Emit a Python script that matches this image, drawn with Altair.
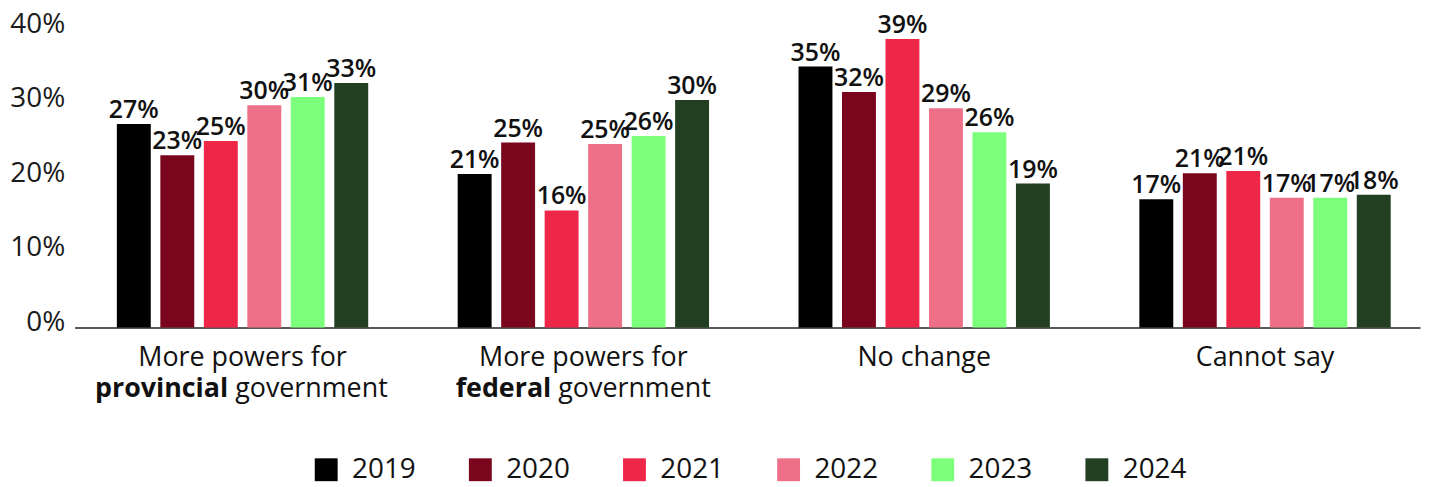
import altair as alt
import pandas as pd

categories = ["More powers for provincial government",
              "More powers for federal government",
              "No change",
              "Cannot say"]
years = ["2019", "2020", "2021", "2022", "2023", "2024"]
# bar heights (percent)
values = {
    "More powers for provincial government": [27.3, 23.1, 25.0, 29.8, 30.9, 32.8],
    "More powers for federal government": [20.6, 24.8, 15.7, 24.6, 25.7, 30.5],
    "No change": [35.0, 31.6, 38.7, 29.4, 26.2, 19.3],
    "Cannot say": [17.2, 20.7, 21.0, 17.4, 17.4, 17.8],
}
# printed labels
labels = {
    "More powers for provincial government": [27, 23, 25, 30, 31, 33],
    "More powers for federal government": [21, 25, 16, 25, 26, 30],
    "No change": [35, 32, 39, 29, 26, 19],
    "Cannot say": [17, 21, 21, 17, 17, 18],
}
line1 = ["More powers for", "More powers for", "No change", "Cannot say"]
line2_bold = ["provincial", "federal", "", ""]
line2_rest = ["government", "government", "", ""]
colors = ["#000000", "#7A061D", "#EE2648", "#ED7088", "#7CFF7A", "#223F21"]
y_ticks = [0, 10, 20, 30, 40]

FONT = "Open Sans"
CAT_SIZE = 27
TXT = "#111111"

rows = []
for c in categories:
    for y, v, l in zip(years, values[c], labels[c]):
        rows.append({"category": c, "year": y, "value": v, "label": f"{l}%"})
df = pd.DataFrame(rows)

lab = pd.DataFrame({"category": categories, "line1": line1,
                    "bold": line2_bold, "rest": line2_rest})

REG = {"a": .556, "c": .479, "e": .561, "g": .552, "i": .258, "l": .258, "m": .929,
       "n": .614, "o": .603, "p": .613, "r": .408, "s": .477, "t": .352, "v": .501,
       "d": .613, "f": .336, " ": .26, "b": .613}
BLD = {"a": .594, "c": .514, "e": .596, "g": .56, "i": .289, "l": .289, "m": .959,
       "n": .641, "o": .625, "p": .637, "r": .455, "s": .5, "t": .399, "v": .555,
       "d": .637, "f": .399, " ": .26, "b": .637}


def est_width(s, bold=False):
    tbl = BLD if bold else REG
    return sum(tbl.get(ch, 0.58) for ch in s) * CAT_SIZE


xscale = alt.Scale(domain=categories, paddingInner=0.2625, paddingOuter=0.105, align=0.59)
X = alt.X("category:N", scale=xscale,
          axis=alt.Axis(title=None, labels=False, ticks=False, domain=True,
                        domainColor="#222222", domainWidth=1.5))

bars = alt.Chart(df).mark_bar().encode(
    x=X,
    xOffset=alt.XOffset("year:N", scale=alt.Scale(domain=years, paddingInner=0.22, paddingOuter=0)),
    y=alt.Y("value:Q", scale=alt.Scale(domain=[0, 40], nice=False, zero=True),
            axis=alt.Axis(title=None, values=y_ticks, labelExpr="datum.value + '%'",
                          ticks=False, domain=False, grid=False, labelFontSize=28,
                          labelFont=FONT, labelColor="#1a1a1a", labelPadding=10,
                          labelOffset=-5)),
    color=alt.Color("year:N", scale=alt.Scale(domain=years, range=colors),
                    legend=alt.Legend(title=None, orient="none", direction="horizontal",
                                      legendX=239, legendY=429, symbolType="square",
                                      symbolSize=529, symbolStrokeWidth=0,
                                      labelFontSize=28, labelFont=FONT, labelColor=TXT,
                                      labelOffset=12, columnPadding=50)),
)

texts = alt.Chart(df).mark_text(font=FONT, fontWeight=600, fontSize=25,
                                baseline="alphabetic", dy=-6, color=TXT).encode(
    x=X,
    xOffset=alt.XOffset("year:N"),
    y="value:Q",
    text=alt.Text("label:N"),
)

cat_l1 = alt.Chart(lab).mark_text(font=FONT, fontSize=CAT_SIZE, baseline="alphabetic",
                                  align="center", color=TXT).encode(
    x=X, y=alt.value(339), text="line1:N")

layers = [bars, texts, cat_l1]
for c, b, r in zip(categories, line2_bold, line2_rest):
    if not b:
        continue
    wb = est_width(b, True)
    wr = est_width(r)
    sp = 0.26 * CAT_SIZE
    split = (wb + sp - wr) / 2 - sp
    sub = alt.Chart(lab).transform_filter(alt.datum.category == c)
    layers.append(sub.mark_text(font=FONT, fontSize=CAT_SIZE, fontWeight="bold",
                                baseline="alphabetic", align="right", dx=split,
                                color=TXT).encode(x=X, y=alt.value(370), text="bold:N"))
    layers.append(sub.mark_text(font=FONT, fontSize=CAT_SIZE, baseline="alphabetic",
                                align="left", dx=split + sp,
                                color=TXT).encode(x=X, y=alt.value(370), text="rest:N"))

chart = alt.layer(*layers).properties(
    width=1353, height=300,
    padding={"left": 67, "top": 20, "right": 9, "bottom": 160},
    autosize=alt.AutoSizeParams(type="none"),
).configure(font=FONT).configure_view(stroke=None, strokeWidth=0)

chart.save("out.html", embed_options={"renderer": "svg", "actions": False})
